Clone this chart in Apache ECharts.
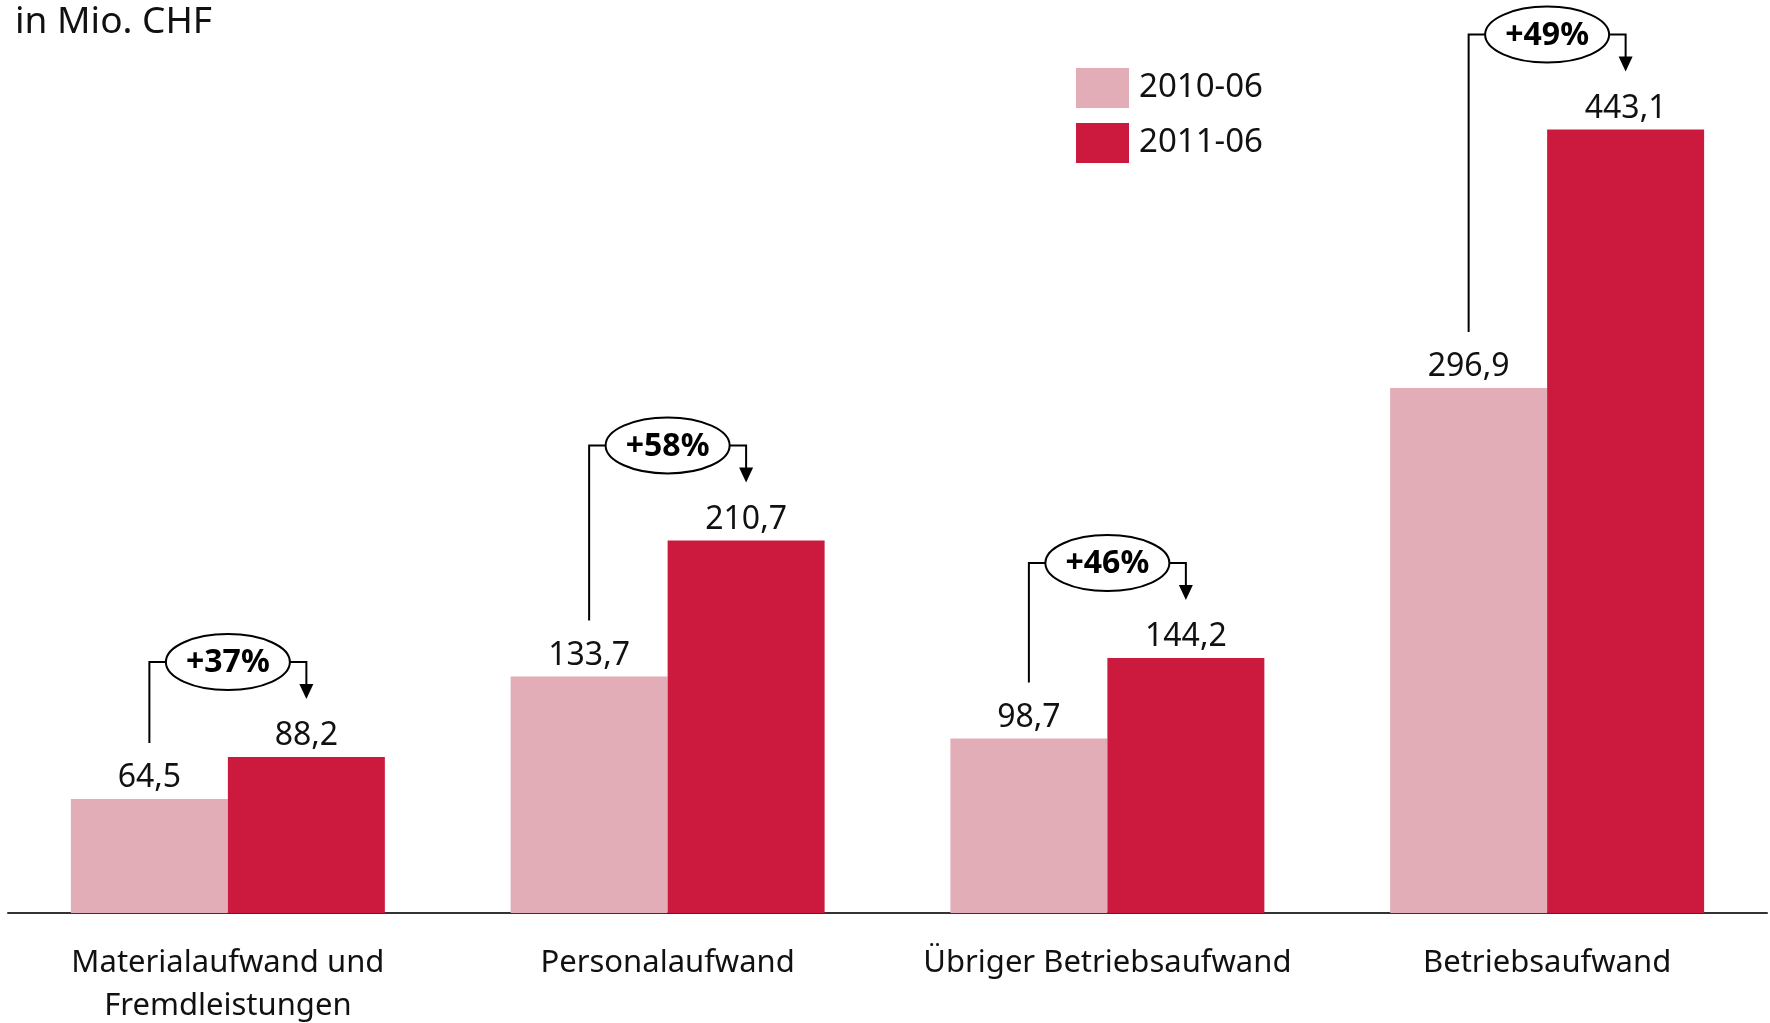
<!DOCTYPE html>
<html>
<head>
<meta charset="utf-8">
<script src="https://cdn.jsdelivr.net/npm/echarts@6/dist/echarts.min.js"></script>
<style>
  html, body { margin: 0; padding: 0; background: #fff; }
  #chart { width: 1770px; height: 1023px; }
</style>
</head>
<body>
<div id="chart"></div>
<script>
// Betriebsaufwand im Halbjahresvergleich (in Mio. CHF)
const categories = [
  'Materialaufwand und\nFremdleistungen',
  'Personalaufwand',
  'Übriger Betriebsaufwand',
  'Betriebsaufwand'
];
const seriesNames = ['2010-06', '2011-06'];
const values2010 = [64.5, 133.7, 98.7, 296.9];
const values2011 = [88.2, 210.7, 144.2, 443.1];
const growthPct = [37, 58, 46, 49];

const FONT = 'Noto Sans';
const PINK = '#E2ADB6';
const RED = '#CC1A3E';
const BAR_GAP = 0.286;

const fmt = v => v.toFixed(1).replace('.', ',');

const chart = echarts.init(document.getElementById('chart'), null, { renderer: 'canvas' });

// Bracket with growth bubble above each pair of bars
function renderGrowth(params, api) {
  const i = api.value(0);
  const v1 = api.value(1);
  const v2 = api.value(2);
  const pct = api.value(3);
  const cx = api.coord([i, 0])[0];
  const band = api.size([1, 0])[0];
  const off = band * (1 - BAR_GAP) / 4;
  const x1 = cx - off;
  const x2 = cx + off;
  const top1 = api.coord([i, v1])[1];
  const top2 = api.coord([i, v2])[1];
  const hY = top2 - 95;
  const leftEnd = top1 - 56;
  const tip = top2 - 58;
  const rx = 62, ry = 28;
  const line = { stroke: '#000', lineWidth: 2, fill: null };
  return {
    type: 'group',
    children: [
      { type: 'polyline', shape: { points: [[x1, leftEnd], [x1, hY], [cx - rx, hY]] }, style: line },
      { type: 'polyline', shape: { points: [[cx + rx, hY], [x2, hY], [x2, tip - 14]] }, style: line },
      { type: 'polygon', shape: { points: [[x2 - 7, tip - 15], [x2 + 7, tip - 15], [x2, tip]] }, style: { fill: '#000' } },
      { type: 'ellipse', shape: { cx: cx, cy: hY, rx: rx, ry: ry }, style: { fill: '#fff', stroke: '#000', lineWidth: 2 } },
      { type: 'text', style: {
          x: cx, y: hY + 1, text: '+' + pct + '%',
          font: 'bold 32px "' + FONT + '"', fill: '#000',
          align: 'center', verticalAlign: 'middle'
        } }
    ]
  };
}

const option = {
  animation: false,
  backgroundColor: '#fff',
  textStyle: { fontFamily: FONT },
  title: {
    text: 'in Mio. CHF',
    left: 15, top: 4, padding: 0,
    textStyle: { fontFamily: FONT, fontSize: 37, fontWeight: 'normal', color: '#111' }
  },
  legend: {
    data: seriesNames,
    orient: 'vertical',
    left: 1076, top: 68, padding: 0,
    itemWidth: 53, itemHeight: 40, itemGap: 15,
    icon: 'rect',
    textStyle: { fontFamily: FONT, fontSize: 33, color: '#111', padding: [0, 0, 0, 5] }
  },
  grid: { left: 8, right: 3, top: 29, bottom: 110, containLabel: false, outerBoundsMode: 'none' },
  xAxis: {
    type: 'category',
    data: categories,
    axisLine: { show: true, lineStyle: { color: '#333', width: 2 } },
    axisTick: { show: false },
    axisLabel: {
      interval: 0, margin: 29, fontFamily: FONT, fontSize: 31, lineHeight: 43, color: '#111'
    }
  },
  yAxis: { type: 'value', min: 0, max: 500, show: false, splitLine: { show: false } },
  series: [
    {
      name: seriesNames[0], type: 'bar', data: values2010,
      barGap: '0%', barCategoryGap: (BAR_GAP * 100) + '%',
      itemStyle: { color: PINK },
      label: { show: true, position: 'top', distance: 5, fontFamily: FONT, fontSize: 32, color: '#111',
        formatter: p => fmt(p.value) }
    },
    {
      name: seriesNames[1], type: 'bar', data: values2011,
      itemStyle: { color: RED },
      label: { show: true, position: 'top', distance: 5, fontFamily: FONT, fontSize: 32, color: '#111',
        formatter: p => fmt(p.value) }
    },
    {
      type: 'custom', name: 'growth', silent: true, z: 10,
      renderItem: renderGrowth,
      data: categories.map((c, i) => [i, values2010[i], values2011[i], growthPct[i]])
    }
  ]
};

chart.setOption(option);
</script>
</body>
</html>
